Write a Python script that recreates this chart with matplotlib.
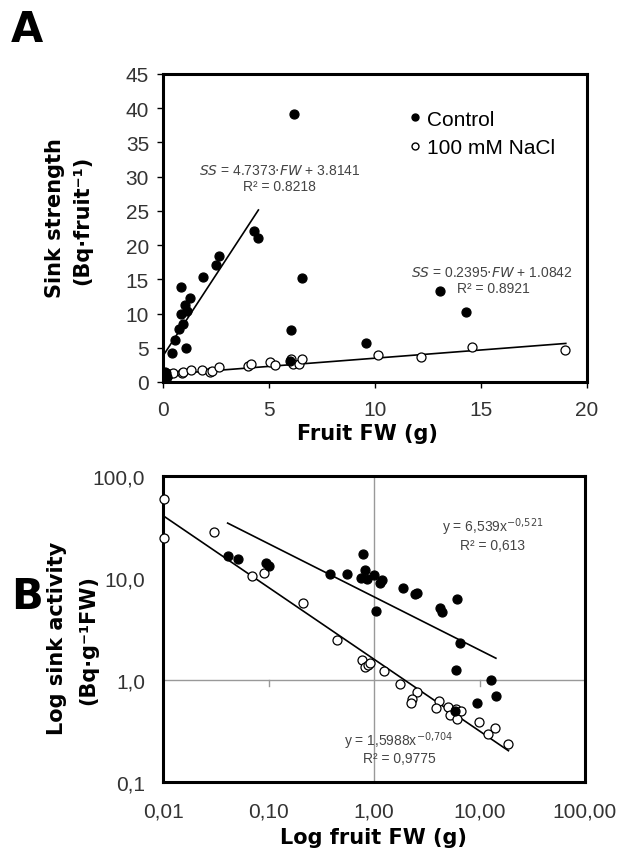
import numpy as np
import matplotlib
matplotlib.use("Agg")
from matplotlib import pyplot as plt
from matplotlib.lines import Line2D

# ---- panel A data: fruit FW (g) vs sink strength (Bq/fruit)
ctrl_fw = [0.05, 0.10, 0.15, 0.20, 0.08, 0.41, 0.57, 0.77, 0.84, 0.92, 1.04, 1.07,
           1.15, 1.25, 0.84, 1.91, 2.50, 2.62, 4.31, 4.49, 6.18, 6.54, 6.02, 6.00,
           9.57, 13.05, 14.28]
ctrl_ss = [0.5, 1.0, 1.3, 0.8, 1.5, 4.3, 6.2, 7.8, 9.9, 8.5, 11.3, 5.0,
           10.4, 12.2, 13.9, 15.3, 17.1, 18.4, 22.1, 21.1, 39.2, 15.2, 7.6, 3.1,
           5.7, 13.3, 10.2]
nacl_fw = [0.05, 0.10, 0.30, 0.49, 0.88, 0.96, 1.31, 1.83, 2.23, 2.30, 2.62, 4.00,
           4.15, 5.04, 5.26, 6.02, 6.15, 6.40, 6.57, 10.16, 12.18, 14.58, 18.97]
nacl_ss = [0.4, 0.7, 1.2, 1.3, 1.3, 1.5, 1.75, 1.75, 1.4, 1.65, 2.15, 2.3,
           2.7, 2.85, 2.5, 3.3, 2.6, 2.7, 3.4, 4.0, 3.7, 5.05, 4.7]
fitA_ctrl = (4.7373, 3.8141)   # slope, intercept
fitA_nacl = (0.2395, 1.0842)

# ---- panel B data: log-log sink activity (Bq/g FW)
ctrl_fwB = [0.041, 0.051, 0.095, 0.102, 0.38, 0.55, 0.79, 0.82, 0.75, 0.85, 1.01, 1.18,
            1.14, 1.87, 2.45, 2.55, 6.08, 4.23, 4.45, 1.045, 6.53, 5.94, 12.9, 14.3,
            9.55, 5.86]
ctrl_act = [16.4, 15.3, 13.9, 13.1, 11.0, 10.9, 17.2, 12.0, 10.1, 9.7, 10.7, 9.6,
            9.0, 8.0, 6.97, 7.2, 6.27, 5.1, 4.67, 4.75, 2.29, 1.25, 1.0, 0.70,
            0.59, 0.50]
nacl_fwB = [0.0103, 0.0103, 0.0306, 0.070, 0.0906, 0.212, 0.443, 0.77, 0.83, 0.88, 0.92,
            1.25, 1.76, 2.57, 2.30, 2.22, 4.13, 3.86, 4.98, 5.26, 5.94, 6.66, 6.18,
            9.95, 12.1, 14.1, 18.5]
nacl_act = [59.5, 24.5, 28.3, 10.4, 11.1, 5.65, 2.47, 1.57, 1.35, 1.40, 1.48,
            1.22, 0.91, 0.77, 0.65, 0.60, 0.62, 0.53, 0.54, 0.45, 0.52, 0.50, 0.415,
            0.385, 0.295, 0.34, 0.236]
fitB_ctrl = (6.539, -0.521)    # a, b in y = a*x^b
fitB_nacl = (1.5988, -0.704)

xticksB = [0.01, 0.1, 1, 10, 100]
xlabelsB = ["0,01", "0,10", "1,00", "10,00", "100,00"]
yticksB = [0.1, 1, 10, 100]
ylabelsB = ["0,1", "1,0", "10,0", "100,0"]

W, H = 620, 853
fig = plt.figure(figsize=(W / 100, H / 100), dpi=100)
tick_font = dict(family="Liberation Sans", size=15, color="#333333")
ann_color = "#444444"

def fx(px): return px / W
def fy(py): return 1 - py / H

### Panel A ###
axA = fig.add_axes([fx(163), fy(383), fx(587) - fx(163), fy(75) - fy(383)])
x = np.linspace(0.05, 4.5, 2)
axA.plot(x, fitA_ctrl[0] * x + fitA_ctrl[1], color="black", lw=1.2, zorder=2)
x = np.linspace(0.0, 19.0, 2)
axA.plot(x, fitA_nacl[0] * x + fitA_nacl[1], color="black", lw=1.2, zorder=2)
axA.scatter(nacl_fw, nacl_ss, s=42, facecolors="white", edgecolors="black", lw=0.9, zorder=3)
axA.scatter(ctrl_fw, ctrl_ss, s=42, facecolors="black", edgecolors="black", lw=0.9, zorder=4)
axA.set_xlim(0, 20)
axA.set_ylim(0, 45)
axA.set_xticks(range(0, 21, 5))
axA.set_yticks(range(0, 46, 5))
axA.tick_params(axis="x", length=4, width=1, pad=9, direction="out", labelcolor="#333333")
axA.tick_params(axis="y", length=4, width=1, pad=6, direction="out", labelcolor="#333333")
for lab in axA.get_xticklabels() + axA.get_yticklabels():
    lab.set_fontproperties(tick_font["family"]); lab.set_fontsize(tick_font["size"])
for sp in axA.spines.values():
    sp.set_linewidth(2.2)

axA.text(5.5, 31.0, r"$\it{SS}$ = 4.7373$\cdot$$\it{FW}$ + 3.8141", ha="center", va="center",
         fontsize=10, color=ann_color, family="Liberation Sans")
axA.text(5.5, 28.6, "R² = 0.8218", ha="center", va="center", fontsize=10, color=ann_color,
         family="Liberation Sans")
axA.text(15.5, 16.1, r"$\it{SS}$ = 0.2395$\cdot$$\it{FW}$ + 1.0842", ha="center", va="center",
         fontsize=10, color=ann_color, family="Liberation Sans")
axA.text(15.6, 13.7, "R² = 0.8921", ha="center", va="center", fontsize=10, color=ann_color,
         family="Liberation Sans")

handles = [Line2D([], [], ls="none", marker="o", ms=5, mfc="black", mec="black"),
           Line2D([], [], ls="none", marker="o", ms=5, mfc="white", mec="black")]
axA.legend(handles, ["Control", "100 mM NaCl"], loc="upper left", bbox_to_anchor=(0.535, 0.945),
           frameon=False, handlelength=0.6, handletextpad=0.3, labelspacing=0.45,
           prop={"family": "Liberation Sans", "size": 15})

fig.text(fx(367), fy(434), "Fruit FW (g)", ha="center", va="center", fontsize=15, fontweight="bold")
fig.text(fx(55), fy(218), "Sink strength", ha="center", va="center", rotation=90,
         fontsize=15, fontweight="bold")
fig.text(fx(82), fy(220), "(Bq·fruit⁻¹)", ha="center", va="center", rotation=90,
         fontsize=15, fontweight="bold")
fig.text(fx(27), fy(30), "A", ha="center", va="center", fontsize=30, fontweight="bold")

### Panel B ###
axB = fig.add_axes([fx(163), fy(783), fx(585) - fx(163), fy(477) - fy(783)])
axB.set_xscale("log")
axB.set_yscale("log")
axB.axhline(1, color="#999999", lw=1, zorder=1)
axB.axvline(1, color="#999999", lw=1, zorder=1)
for xt in [0.1, 10]:
    axB.plot([xt, xt], [1, 0.88], color="#999999", lw=1, zorder=1)
x = np.array([min(ctrl_fwB), max(ctrl_fwB)])
axB.plot(x, fitB_ctrl[0] * x ** fitB_ctrl[1], color="black", lw=1.2, zorder=2)
x = np.array([0.01, 18.8])
axB.plot(x, fitB_nacl[0] * x ** fitB_nacl[1], color="black", lw=1.2, zorder=2)
axB.scatter(nacl_fwB, nacl_act, s=42, facecolors="white", edgecolors="black", lw=0.9, zorder=3,
            clip_on=False)
axB.scatter(ctrl_fwB, ctrl_act, s=42, facecolors="black", edgecolors="black", lw=0.9, zorder=4)
axB.set_xlim(0.01, 100)
axB.set_ylim(0.1, 100)
axB.minorticks_off()
axB.set_xticks(xticksB)
axB.set_xticklabels(xlabelsB)
axB.set_yticks(yticksB)
axB.set_yticklabels(ylabelsB)
axB.tick_params(axis="x", length=0, pad=14, labelcolor="#333333")
axB.tick_params(axis="y", length=0, pad=13, labelcolor="#333333")
for lab in axB.get_xticklabels() + axB.get_yticklabels():
    lab.set_fontproperties(tick_font["family"]); lab.set_fontsize(tick_font["size"])
for sp in axB.spines.values():
    sp.set_linewidth(2.2)

axB.text(13.4, 32, "y = 6,539x$^{-0{,}521}$", ha="center", va="center", fontsize=10,
         color=ann_color, family="Liberation Sans")
axB.text(13.4, 21.0, "R² = 0,613", ha="center", va="center", fontsize=10,
         color=ann_color, family="Liberation Sans")
axB.text(1.73, 0.255, "y = 1,5988x$^{-0{,}704}$", ha="center", va="center", fontsize=10,
         color=ann_color, family="Liberation Sans")
axB.text(1.73, 0.170, "R² = 0,9775", ha="center", va="center", fontsize=10,
         color=ann_color, family="Liberation Sans")

fig.text(fx(373), fy(838), "Log fruit FW (g)", ha="center", va="center", fontsize=15, fontweight="bold")
fig.text(fx(57), fy(638), "Log sink activity", ha="center", va="center", rotation=90,
         fontsize=15, fontweight="bold")
fig.text(fx(88), fy(640), "(Bq·g⁻¹FW)", ha="center", va="center", rotation=90,
         fontsize=15, fontweight="bold")
fig.text(fx(27), fy(597), "B", ha="center", va="center", fontsize=30, fontweight="bold")

fig.savefig("out.png", dpi=100)
